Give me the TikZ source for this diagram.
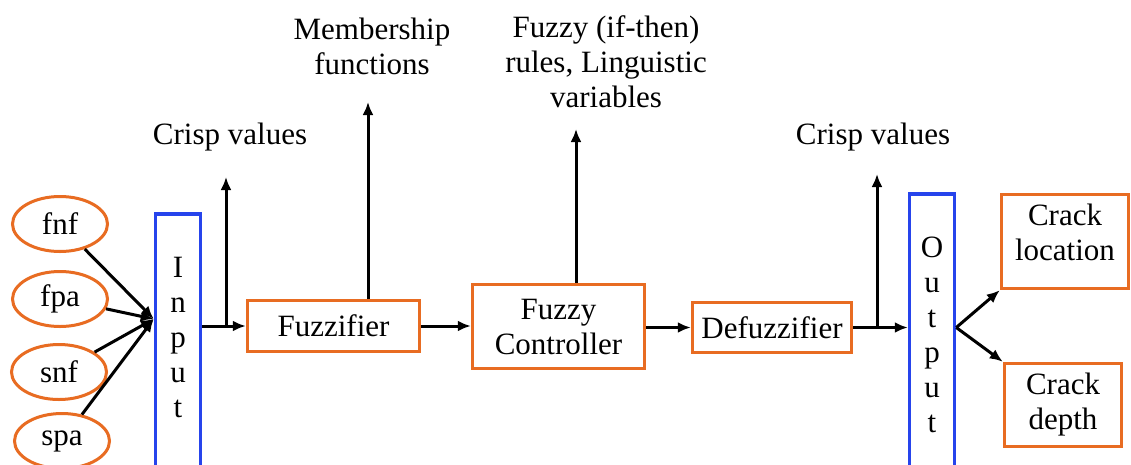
\documentclass[tikz,border=0pt]{standalone}
\usepackage{fontspec}
\setmainfont{Liberation Serif}
\newfontfamily\diagserif{Liberation Serif}
\usetikzlibrary{shapes.geometric,arrows.meta}
\definecolor{boxorange}{RGB}{232,108,34}
\definecolor{boxblue}{RGB}{38,68,236}
\tikzset{
  txt/.style={font=\diagserif\fontsize{31}{35}\selectfont, inner sep=0pt, align=center},
  oval/.style={txt, draw=boxorange, line width=3pt, ellipse, minimum width=95pt, minimum height=55pt},
  obox/.style={txt, draw=boxorange, line width=3.5pt, rectangle},
  bbox/.style={draw=boxblue, line width=3.5pt, rectangle, inner sep=0pt},
  wire/.style={line width=3pt, black},
  arr/.style={wire, -{Latex[length=13pt,width=11pt]}},
}
\begin{document}
\begin{tikzpicture}[x=1pt,y=-1pt]
\clip (0,0) rectangle (1131,464);
\fill[white] (0,0) rectangle (1131,464);

% input variables
\node[oval] (fnf) at (60,224) {fnf};
\node[oval] (fpa) at (60,299) {fpa};
\node[oval] (snf) at (59,372) {snf};
\node[oval] (spa) at (62,441) {spa};

% input and output bars
\node[bbox, minimum width=45pt, minimum height=290pt, anchor=north] (input) at (178,212) {};
\node[txt, anchor=north] (inputtxt) at (178,257) {I\\n\\p\\u\\t};
\node[bbox, minimum width=45pt, minimum height=300pt, anchor=north] (output) at (932,192) {};
\node[txt, anchor=north] (outputtxt) at (932,237) {O\\u\\t\\p\\u\\t};

% processing blocks
\node[obox, minimum width=172pt, minimum height=51pt] (fuzz) at (333.5,326) {Fuzzifier};
\node[obox, minimum width=172pt, minimum height=84pt] (ctrl) at (558.5,326.5) {Fuzzy\\Controller};
\node[obox, minimum width=159pt, minimum height=50pt] (defuzz) at (772,327.5) {Defuzzifier};

% results
\node[obox, minimum width=127pt, minimum height=94pt] (loc) at (1065,241.5) {};
\node[txt] (loctxt) at (1065,232.5) {Crack\\location};
\node[obox, minimum width=117pt, minimum height=83pt] (depth) at (1063,405) {Crack\\depth};

% labels above
\node[txt] (crisp1) at (230,137) {Crisp values};
\node[txt] (member) at (372,46) {Membership\\functions};
\node[txt] (rules) at (606,62) {Fuzzy (if-then)\\rules, Linguistic\\variables};
\node[txt] (crisp2) at (873,137) {Crisp values};

% inputs into the input bar
\coordinate (inj) at ([yshift=-107pt]input.north west);
\draw[arr] (fnf) -- (inj);
\draw[arr] (fpa) -- (inj);
\draw[arr] (snf) -- (inj);
\draw[arr] (spa) -- (inj);

% main chain
\coordinate (inout) at (input.east |- fuzz.west);
\draw[arr] (inout) -- (fuzz.west);
\coordinate (j1) at (226,326);
\coordinate (j1top) at (226,177);
\draw[arr] (j1) -- (j1top);

\coordinate (memtop) at (368,102);
\draw[arr] (fuzz.north -| memtop) -- (memtop);

\draw[arr] (fuzz.east) -- (ctrl.west |- fuzz.east);

\coordinate (rultop) at (576,129);
\draw[arr] (ctrl.north -| rultop) -- (rultop);

\draw[arr] (ctrl.east |- defuzz.west) -- (defuzz.west);
\draw[arr] (defuzz.east) -- (output.west |- defuzz.east);
\coordinate (j2) at (877,327);
\coordinate (j2top) at (877,174);
\draw[arr] (j2) -- (j2top);

% output to results
\coordinate (outj) at (output.east |- defuzz.east);
\draw[arr] (outj) -- (loc.south west);
\draw[arr] (outj) -- (depth.north west);
\end{tikzpicture}
\end{document}
